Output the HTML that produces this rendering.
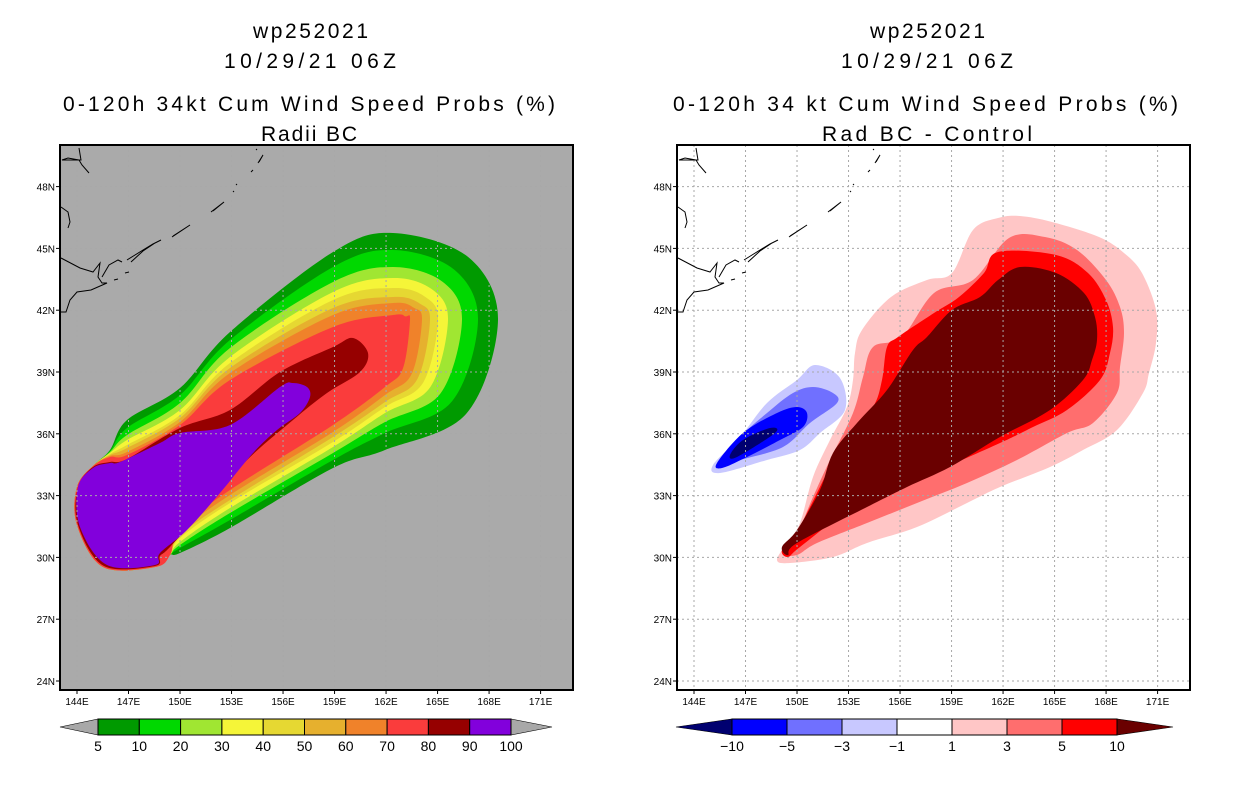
<!DOCTYPE html>
<html><head><meta charset="utf-8"><style>
html,body{margin:0;padding:0;background:#fff;width:1236px;height:800px;overflow:hidden}
svg{display:block;font-family:"Liberation Sans",sans-serif}
</style></head><body>
<svg id="s" width="1236" height="800" viewBox="0 0 1236 800" xmlns="http://www.w3.org/2000/svg">
<rect width="1236" height="800" fill="#fff"/>
<g font-size="21" fill="#000" lengthAdjust="spacing">
<text x="253" y="38" textLength="115" lengthAdjust="spacing">wp252021</text>
<text x="224" y="68" textLength="172" lengthAdjust="spacing">10/29/21 06Z</text>
<text x="63" y="111" textLength="492" lengthAdjust="spacing">0-120h 34kt Cum Wind Speed Probs (%)</text>
<text x="261" y="141" textLength="96" lengthAdjust="spacing">Radii BC</text></g>
<g font-size="21" fill="#000">
<text x="870" y="38" textLength="115" lengthAdjust="spacing">wp252021</text>
<text x="841" y="68" textLength="172" lengthAdjust="spacing">10/29/21 06Z</text>
<text x="673" y="111" textLength="505" lengthAdjust="spacing">0-120h 34 kt Cum Wind Speed Probs (%)</text>
<text x="822" y="141" textLength="210" lengthAdjust="spacing">Rad BC - Control</text></g>
<defs><clipPath id="cl"><rect x="60" y="145" width="513" height="545"/></clipPath>
<clipPath id="cr"><rect x="677" y="145" width="513" height="545"/></clipPath></defs>
<g id="L"></g>
<g id="R"></g>
<g id="CB"></g>
</svg>
<script>
const lonTicks=[144,147,150,153,156,159,162,165,168,171];
const latTicks=[48,45,42,39,36,33,30,27,24];
const levelColors=["#009a00","#00d800","#a0e632","#f5f538","#e6d832","#e6b02e","#f0822a","#fa3c3c"];
const topA=[420,428,435,440,445,448,452,455];
const topM=[388,395,403,410,415,418,422,425];
const topB=[332,340,348,357,363,368,373,380];
const topC=[252,267,282,292,300,308,315,327];
const capTop=[233,250,267,278,288,297,303,315];
const capRight=[498,478,462,448,438,430,422,410];
const capBot=[450,433,422,413,407,402,395,387];
const botC=[468,460,453,447,442,437,432,425];
const botB=[528,520,513,508,503,500,495,490];
const botA=[553,548,545,542,538,535,532,528];
const p80=[[78,487],[93,467],[110,462],[127,459],[180,428],[230,410],[280,372],[333,347],[353,338],[368,353],[360,372],[327,393],[293,420],[247,460],[210,503],[170,547],[160,556],[155,566],[104,566],[78,525]];
const p90=[[93,468],[110,463],[120,462],[160,443],[180,433],[230,425],[280,387],[293,383],[307,387],[310,397],[300,413],[277,430],[253,453],[220,493],[187,530],[160,553],[155,565],[107,565],[80,527],[78,487]];
const rPink=[[998,218],[1020,216],[1052,222],[1099,237],[1124,253],[1142,273],[1156,310],[1156,343],[1149,373],[1143,393],[1117,430],[1083,450],[1050,467],[1000,487],[967,503],[917,527],[867,543],[833,557],[790,563],[777,560],[787,543],[800,523],[813,477],[830,440],[847,407],[853,380],[855,353],[862,330],[891,297],[927,280],[952,273],[973,230]];
const rSalmon=[[1009,238],[1045,237],[1077,250],[1106,280],[1120,307],[1124,333],[1120,367],[1117,393],[1093,423],[1067,433],[1017,460],[967,483],[917,503],[867,523],[817,543],[797,555],[785,552],[800,527],[813,497],[830,460],[853,413],[863,377],[873,347],[902,337],[934,293],[973,280]];
const rRed=[[998,252],[1056,255],[1088,273],[1106,300],[1113,327],[1110,353],[1100,380],[1067,410],[1033,427],[1000,443],[933,473],[900,490],[850,510],[800,547],[788,557],[782,550],[797,532],[810,507],[827,473],[847,437],[873,407],[882,380],[887,347],[898,337],[934,313],[959,297],[984,273]];
const rDark=[[1020,267],[1056,273],[1084,293],[1095,317],[1097,340],[1092,360],[1083,380],[1050,410],[1000,437],[950,467],[907,487],[867,507],[797,543],[788,555],[782,547],[797,530],[820,490],[833,453],[857,423],[887,390],[913,350],[927,337],[952,310],[980,297],[998,280]];
const b1=[[815,365],[840,378],[845,410],[820,433],[800,450],[767,460],[720,473],[713,465],[740,437],[767,403],[797,380]];
const b3=[[813,387],[833,393],[837,403],[810,423],[783,447],[740,460],[720,467],[737,440],[767,413],[793,393]];
const b5=[[797,407],[807,413],[803,427],[780,440],[747,457],[722,468],[717,463],[743,433],[777,413]];
const b10=[[770,428],[775,433],[737,457],[730,455],[743,440]];
const leftBarLabels=["5","10","20","30","40","50","60","70","80","90","100"];
const leftBarColors=["#009a00","#00d800","#a0e632","#f5f538","#e6d832","#e6b02e","#f0822a","#fa3c3c","#960000","#8200dc"];
const rightBarLabels=["\u221210","\u22125","\u22123","\u22121","1","3","5","10"];
const rightBarColors=["#0000ff","#7070ff","#c8c8ff","#ffffff","#ffc6c6","#ff6e6e","#ff0000"];
const coast=[
 [[696,148],[698,160],[696,160],[685,158],[679,160],[696,160],[699,165],[706,173]],
 [[678,207],[685,212],[687,222],[685,228]],
 [[678,258],[697,268],[710,272],[717,263],[715,277],[719,283],[724,283],[708,290],[694,292],[687,300],[683,312],[678,312]],
 [[719,277],[726,265],[735,260],[739,262]],
 [[744,260],[752,255],[760,250],[770,244],[778,240],[772,243],[760,251],[748,262]],
 [[789,237],[807,225],[790,236]],[[828,212],[841,202],[830,211]],
 [[731,280],[735,279]],[[742,273],[746,272]],[[850,192],[851,191]],[[853,185],[854,184]],[[868,172],[870,170]],[[875,163],[880,155],[876,162]],[[873,150],[874,149]]
];
const NS="http://www.w3.org/2000/svg";
function mk(parent,tag,attrs){const e=document.createElementNS(NS,tag);for(const k in attrs)e.setAttribute(k,attrs[k]);parent.appendChild(e);return e;}
function smooth(p){let d="M"+p[0][0]+","+p[0][1];const n=p.length;for(let i=0;i<n;i++){const p0=p[(i-1+n)%n],p1=p[i],p2=p[(i+1)%n],p3=p[(i+2)%n];
 const c1=[p1[0]+(p2[0]-p0[0])/6,p1[1]+(p2[1]-p0[1])/6],c2=[p2[0]-(p3[0]-p1[0])/6,p2[1]-(p3[1]-p1[1])/6];
 d+="C"+c1[0].toFixed(1)+","+c1[1].toFixed(1)+" "+c2[0].toFixed(1)+","+c2[1].toFixed(1)+" "+p2[0]+","+p2[1];}return d+"Z";}
function lonX(x0,lon){return x0+(lon-144)*17.17;}
function latY(lat){return 372+(39-lat)*20.6;}
function panel(g,x0,bg,clip){
 const r=mk(g,"rect",{x:x0-17,y:145,width:513,height:545,fill:bg});
 
 
 return mk(g,"g",{"clip-path":"url(#"+clip+")"});
}
function grid(g,x0,body){
 const gx=x0-17;
 const gg=mk(body,"g",{stroke:"#a8a8a8","stroke-width":1,"stroke-dasharray":"2,3"});
 
 
 lonTicks.forEach(l=>{const x=lonX(x0,l);mk(gg,"line",{x1:x,y1:145,x2:x,y2:690});});
 latTicks.forEach(l=>{const y=latY(l);mk(gg,"line",{x1:gx,y1:y,x2:gx+513,y2:y});});
 const cg=mk(body,"g",{fill:"none",stroke:"#000","stroke-width":1});
 
 
 coast.forEach(c=>{mk(cg,"polyline",{points:c.map(q=>(q[0]-694+x0)+","+q[1]).join(" ")});});
 mk(g,"rect",{x:gx,y:145,width:513,height:545,fill:"none",stroke:"#000","stroke-width":2});
 const tg=mk(g,"g",{"font-size":10,fill:"#000"});
 
 
 latTicks.forEach(l=>{const y=latY(l);mk(tg,"line",{x1:gx-4,y1:y,x2:gx,y2:y,stroke:"#000"});const t=mk(tg,"text",{x:gx-5,y:y+4,"text-anchor":"end"});t.textContent=l+"N";});
 lonTicks.forEach(l=>{const x=lonX(x0,l);mk(tg,"line",{x1:x,y1:690,x2:x,y2:694,stroke:"#000"});const t=mk(tg,"text",{x:x,y:705,"text-anchor":"middle"});t.textContent=l+"E";});
}
const L=document.getElementById("L");
const lb=panel(L,77,"#aaaaaa","cl");
for(let i=0;i<levelColors.length;i++){
 const Rr=capRight[i];
 const pts=[[77,487],[93,466],[110,450+i],[127,topA[i]],[180,topM[i]],[230,topB[i]],[333,topC[i]],[393,capTop[i]],
  [393+0.72*(Rr-393),320-0.72*(320-capTop[i])],[Rr,320],[385+0.72*(Rr-385),320+0.72*(capBot[i]-320)],[385,capBot[i]],
  [333,botC[i]],[230,botB[i]],[180,botA[i]],[170,555],[155,567],[103,567],[77,525]];
 const p=mk(lb,"path",{d:smooth(pts),fill:levelColors[i]});
 
 
}
const q80=mk(lb,"path",{d:smooth(p80),fill:"#960000"});


const q90=mk(lb,"path",{d:smooth(p90),fill:"#8200dc"});


grid(L,77,lb);
const R=document.getElementById("R");
const rb=panel(R,694,"#ffffff","cr");
[[rPink,"#ffc6c6"],[rSalmon,"#ff6e6e"],[rRed,"#ff0000"],[rDark,"#6a0000"],[b1,"#c8c8ff"],[b3,"#7070ff"],[b5,"#0000ff"],[b10,"#000070"]].forEach(a=>{
 const p=mk(rb,"path",{d:smooth(a[0]),fill:a[1]});
 
 
});
grid(R,694,rb);
const CB=document.getElementById("CB");
function bar(x0,x1,tipL,tipR,colors,labels,triL,triR,name){
 const g=mk(CB,"g",{});
 
 
 const w=(x1-x0)/colors.length,y0=719,y1=735;
 mk(g,"polygon",{points:`${tipL},727 ${x0},${y0} ${x0},${y1}`,fill:triL,stroke:"#000","stroke-width":0.6});
 mk(g,"polygon",{points:`${tipR},727 ${x1},${y0} ${x1},${y1}`,fill:triR,stroke:"#000","stroke-width":0.6});
 colors.forEach((c,i)=>{mk(g,"rect",{x:x0+i*w,y:y0,width:w,height:y1-y0,fill:c,stroke:"#000","stroke-width":1});});
 labels.forEach((t,i)=>{const e=mk(g,"text",{x:x0+i*w,y:751,"text-anchor":"middle","font-size":14});e.textContent=t;});
}
bar(98,511,60,552,leftBarColors,leftBarLabels,"#a8a8a8","#a8a8a8","left-colorbar");
bar(732,1117,676,1173,rightBarColors,rightBarLabels,"#000070","#6a0000","right-colorbar");
</script>
</body></html>
